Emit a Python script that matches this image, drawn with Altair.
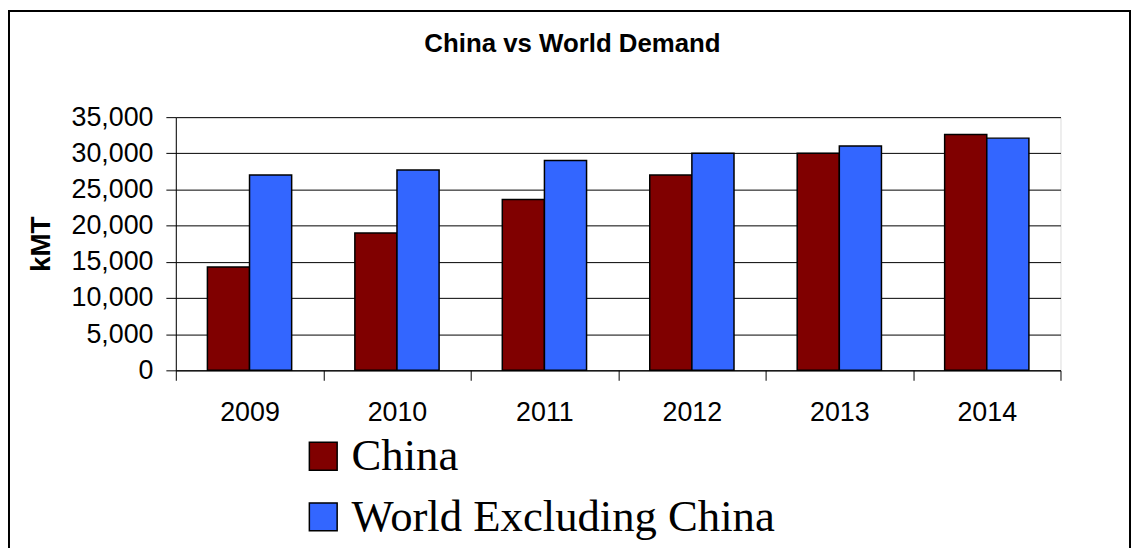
import altair as alt
import pandas as pd

years = ["2009", "2010", "2011", "2012", "2013", "2014"]
series_names = ["China", "World Excluding China"]
china = [14300, 19000, 23600, 27000, 30000, 32600]
world = [27000, 27700, 29000, 30000, 31000, 32100]
colors = ["#800000", "#3366FF"]
y_ticks = [0, 5000, 10000, 15000, 20000, 25000, 30000, 35000]

rows = []
for i, yr in enumerate(years):
    rows.append({"year": yr, "series": series_names[0], "value": china[i]})
    rows.append({"year": yr, "series": series_names[1], "value": world[i]})
df = pd.DataFrame(rows)

W, H = 891, 255
PAD_L, PAD_T = 169, 108
TOTAL_W, TOTAL_H = 1131, 540

bars = alt.Chart(df).mark_bar(stroke="black", strokeWidth=1.5).encode(
    x=alt.X("year:N", sort=years,
            scale=alt.Scale(paddingInner=0, paddingOuter=0),
            axis=alt.Axis(title=None, labelAngle=0, tickBand="extent",
                          labelFont="Liberation Sans", labelFontSize=27,
                          labelColor="black", labelPadding=20,
                          tickSize=10, tickColor="black", domainColor="black",
                          grid=False)),
    xOffset=alt.XOffset("series:N", sort=series_names,
                        scale=alt.Scale(paddingInner=0, paddingOuter=0.75)),
    y=alt.Y("value:Q",
            scale=alt.Scale(domain=[0, 35000], nice=False),
            axis=alt.Axis(title="kMT", values=y_ticks, format=",d",
                          labelFont="Liberation Sans", labelFontSize=27,
                          labelColor="black", labelPadding=13,
                          tickSize=10, tickColor="black", domainColor="black",
                          titleFont="Liberation Sans", titleFontSize=28,
                          titleFontWeight="bold", titleColor="black",
                          titlePadding=16,
                          grid=True, gridColor="black", gridWidth=1)),
    color=alt.Color("series:N", sort=series_names,
                    scale=alt.Scale(domain=series_names, range=colors),
                    legend=alt.Legend(title=None, orient="none",
                                      legendX=126, legendY=319,
                                      symbolType="square", symbolSize=784,
                                      symbolStrokeColor="black",
                                      symbolStrokeWidth=1.5,
                                      symbolOpacity=1,
                                      labelFont="Liberation Serif",
                                      labelFontSize=45, labelColor="black",
                                      labelOffset=6, rowPadding=15,
                                      labelLimit=0)),
)

border = alt.Chart(pd.DataFrame({"a": [0]})).mark_rect(
    fill=None, stroke="black", strokeWidth=2, clip=False
).encode(
    x=alt.value(1 - PAD_L),
    x2=alt.value(TOTAL_W - 1 - PAD_L),
    y=alt.value(1 - PAD_T),
    y2=alt.value(TOTAL_H + 40 - PAD_T),
)

chart = alt.layer(border, bars).properties(
    width=W,
    height=H,
    title=alt.TitleParams("China vs World Demand", font="Liberation Sans",
                          fontSize=26, fontWeight="bold", color="black",
                          anchor="middle", baseline="bottom",
                          dx=-46, dy=73, offset=0),
    padding={"left": PAD_L, "top": PAD_T,
             "right": TOTAL_W - PAD_L - W, "bottom": TOTAL_H - PAD_T - H},
    autosize=alt.AutoSizeParams(type="none"),
).configure_view(stroke="#808080", strokeWidth=1).configure(background="white")

chart.save("out.html", embed_options={"renderer": "svg", "actions": False})
